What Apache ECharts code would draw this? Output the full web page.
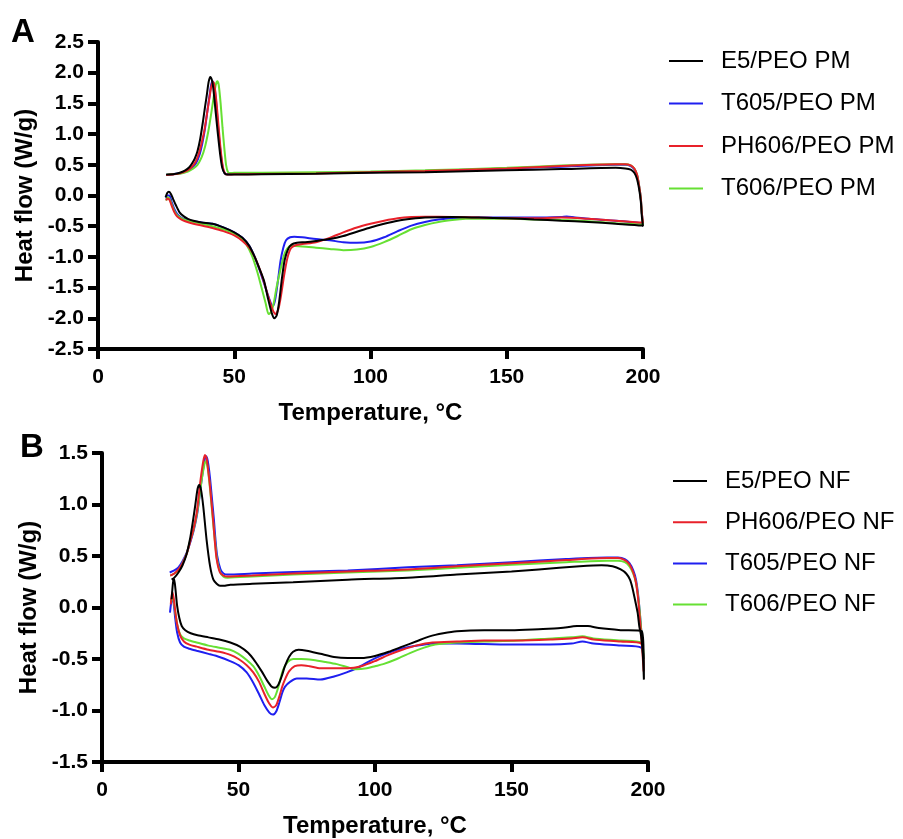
<!DOCTYPE html>
<html>
<head>
<meta charset="utf-8">
<script src="https://cdn.jsdelivr.net/npm/echarts@6/dist/echarts.min.js"></script>
<style>html,body{margin:0;padding:0;background:#fff}#c{width:903px;height:839px}</style>
</head>
<body>
<div id="c"></div>
<script>
// ---------- Tick labels / axis ranges ----------
const xTicks = [0, 50, 100, 150, 200];
const yTicksA = [-2.5, -2.0, -1.5, -1.0, -0.5, 0.0, 0.5, 1.0, 1.5, 2.0, 2.5];
const yTicksB = [-1.5, -1.0, -0.5, 0.0, 0.5, 1.0, 1.5];

// ---------- Legend names ----------
const namesA = ['E5/PEO PM', 'T605/PEO PM', 'PH606/PEO PM', 'T606/PEO PM'];
const namesB = ['E5/PEO NF', 'PH606/PEO NF', 'T605/PEO NF', 'T606/PEO NF'];

// ---------- Panel A : physical mixtures  [temperature °C, heat flow W/g] ----------
// heating scans (25 -> 200 °C)
const A_E5_heat = [[24.8,-0.03],[25.4,0.04],[26,0.06],[26.7,0.03],[27.5,-0.05],[28.5,-0.15],[30,-0.28],[31.5,-0.34],[33,-0.38],[35,-0.41],[38,-0.44],[42,-0.46],[46,-0.52],[50,-0.6],[53,-0.69],[55.5,-0.82],[57.5,-1.0],[59.5,-1.22],[61,-1.4],[62.5,-1.7],[63.8,-1.92],[64.7,-2.0],[65.6,-1.95],[66.5,-1.72],[67.5,-1.35],[68.5,-1.05],[69.8,-0.87],[71,-0.8],[73,-0.77],[76,-0.76],[80,-0.74],[85,-0.71],[90,-0.66],[95,-0.59],[100,-0.52],[105,-0.46],[110,-0.41],[115,-0.38],[120,-0.36],[130,-0.35],[140,-0.36],[150,-0.37],[160,-0.39],[170,-0.41],[180,-0.43],[190,-0.46],[199.6,-0.49]];
const A_T605_heat = [[25,-0.05],[25.5,0.0],[26.2,0.0],[27,-0.1],[28,-0.22],[29,-0.3],[30.5,-0.36],[32,-0.39],[35,-0.42],[38,-0.44],[42,-0.46],[46,-0.52],[50,-0.6],[53,-0.69],[55.5,-0.82],[57.5,-1.0],[59.5,-1.24],[61,-1.44],[62.5,-1.64],[63.5,-1.76],[64.2,-1.8],[65,-1.7],[66,-1.4],[67,-1.06],[68,-0.85],[69,-0.73],[70.5,-0.68],[72,-0.67],[75,-0.68],[80,-0.71],[85,-0.73],[90,-0.76],[95,-0.77],[100,-0.75],[105,-0.68],[110,-0.58],[115,-0.49],[120,-0.43],[125,-0.39],[130,-0.37],[140,-0.36],[150,-0.36],[160,-0.36],[170,-0.35],[172,-0.34],[175,-0.36],[180,-0.38],[190,-0.41],[199.6,-0.45]];
const A_PH606_heat = [[25,-0.08],[25.5,-0.05],[26.2,-0.07],[27,-0.16],[28,-0.27],[29,-0.34],[30.5,-0.39],[32,-0.42],[35,-0.46],[38,-0.49],[42,-0.53],[46,-0.58],[50,-0.65],[53,-0.74],[55.5,-0.85],[57.5,-1.0],[59.5,-1.22],[61,-1.42],[62.5,-1.65],[64,-1.85],[65.2,-1.93],[66.2,-1.85],[67.2,-1.62],[68.3,-1.3],[69.5,-1.02],[70.8,-0.86],[72.5,-0.81],[75,-0.79],[80,-0.76],[85,-0.69],[90,-0.6],[95,-0.52],[100,-0.46],[105,-0.41],[110,-0.37],[115,-0.35],[120,-0.345],[130,-0.35],[140,-0.36],[150,-0.37],[160,-0.37],[170,-0.36],[180,-0.38],[190,-0.41],[199.6,-0.44]];
const A_T606_heat = [[25,-0.08],[25.5,-0.03],[26.2,-0.05],[27,-0.14],[28,-0.25],[29,-0.32],[30.5,-0.37],[32,-0.4],[35,-0.43],[38,-0.46],[42,-0.5],[46,-0.55],[50,-0.62],[52.5,-0.7],[54.5,-0.8],[56.5,-0.98],[58.5,-1.25],[60,-1.5],[61.5,-1.75],[62.6,-1.93],[63.5,-1.9],[64.5,-1.75],[65.5,-1.5],[67,-1.2],[68.3,-0.97],[69.5,-0.86],[71,-0.82],[75,-0.83],[80,-0.85],[85,-0.87],[90,-0.89],[95,-0.88],[100,-0.84],[105,-0.76],[110,-0.66],[115,-0.55],[120,-0.48],[125,-0.43],[130,-0.4],[135,-0.38],[140,-0.375],[150,-0.38],[160,-0.39],[170,-0.4],[180,-0.42],[190,-0.45],[199.6,-0.47]];
// cooling scans (200 -> 25 °C)
const A_E5_cool = [[200,-0.5],[199.6,-0.35],[199.2,-0.1],[198.6,0.1],[197.8,0.27],[196.8,0.37],[195.5,0.42],[193.5,0.44],[190,0.45],[170,0.43],[150,0.41],[120,0.38],[100,0.37],[80,0.355],[60,0.345],[50,0.34],[47.5,0.34],[46.5,0.36],[45.6,0.45],[44.8,0.68],[44,1.0],[43.2,1.35],[42.3,1.75],[41.8,1.88],[41.2,1.93],[40.6,1.85],[40,1.66],[39.3,1.45],[38.5,1.2],[37.5,0.92],[36.5,0.72],[35.5,0.6],[34.5,0.52],[33.5,0.46],[32,0.41],[30,0.37],[28,0.35],[25,0.34]];
const A_T605_cool = [[200,-0.46],[199.6,-0.3],[199.2,-0.05],[198.6,0.15],[197.8,0.33],[196.8,0.43],[195.5,0.48],[193.5,0.5],[190,0.5],[170,0.47],[150,0.44],[120,0.4],[100,0.38],[80,0.365],[60,0.355],[50,0.35],[47.5,0.345],[46.5,0.36],[45.8,0.45],[45,0.7],[44.2,1.05],[43.5,1.45],[42.8,1.75],[42.1,1.86],[41.6,1.82],[41,1.65],[40.2,1.4],[39.3,1.1],[38.3,0.85],[37.3,0.67],[36,0.53],[34.5,0.45],[33,0.4],[31,0.37],[28,0.35],[25,0.34]];
const A_PH606_cool = [[200,-0.44],[199.6,-0.3],[199.2,-0.05],[198.6,0.15],[197.8,0.34],[196.8,0.44],[195.5,0.49],[193.5,0.51],[190,0.51],[170,0.48],[150,0.44],[120,0.4],[100,0.38],[80,0.36],[60,0.35],[50,0.345],[47.5,0.34],[46.6,0.36],[45.8,0.47],[45,0.75],[44.2,1.15],[43.4,1.55],[42.7,1.8],[42.2,1.85],[41.6,1.78],[41,1.62],[40,1.33],[39,1.05],[38,0.85],[37,0.68],[35.8,0.55],[34.3,0.46],[32.5,0.4],[30,0.36],[28,0.345],[25,0.335]];
const A_T606_cool = [[200,-0.48],[199.6,-0.3],[199.2,-0.05],[198.6,0.15],[197.8,0.34],[196.8,0.44],[195.5,0.49],[193.5,0.51],[190,0.51],[170,0.49],[150,0.45],[120,0.41],[100,0.39],[80,0.38],[60,0.37],[50,0.37],[48.5,0.365],[47.7,0.38],[47,0.5],[46.4,0.75],[45.7,1.1],[45,1.5],[44.3,1.8],[43.8,1.86],[43.2,1.8],[42.5,1.62],[41.6,1.35],[40.5,1.05],[39.3,0.8],[38,0.62],[36.5,0.5],[35,0.44],[33,0.39],[30.5,0.36],[28,0.35],[25,0.34]];

// ---------- Panel B : nanofibres  [temperature °C, heat flow W/g] ----------
const B_E5_heat = [[25.5,0.08],[26,0.24],[26.4,0.28],[26.9,0.18],[27.5,0.02],[28.3,-0.1],[29.2,-0.18],[30.5,-0.22],[32.5,-0.25],[35,-0.27],[39,-0.29],[43,-0.31],[47,-0.34],[50.5,-0.38],[53.5,-0.44],[56,-0.52],[58.5,-0.62],[60.5,-0.71],[62.2,-0.77],[63.4,-0.78],[64.6,-0.75],[65.8,-0.67],[67,-0.57],[68.5,-0.48],[70,-0.43],[72,-0.41],[75,-0.42],[80,-0.45],[85,-0.48],[90,-0.49],[95,-0.49],[100,-0.47],[105,-0.43],[110,-0.38],[115,-0.33],[120,-0.28],[125,-0.25],[130,-0.23],[140,-0.22],[150,-0.22],[160,-0.21],[168,-0.2],[174,-0.18],[178,-0.18],[182,-0.2],[190,-0.22],[197.7,-0.23]];
const B_PH606_heat = [[25.2,0.03],[25.7,0.15],[26.2,0.1],[26.8,-0.03],[27.5,-0.16],[28.6,-0.27],[30,-0.33],[32,-0.36],[34.7,-0.38],[39,-0.41],[43,-0.43],[47,-0.46],[50,-0.5],[53,-0.56],[55.4,-0.63],[57.5,-0.72],[59.5,-0.84],[61.2,-0.93],[62.6,-0.97],[63.8,-0.95],[65,-0.86],[66,-0.77],[67,-0.7],[68.5,-0.62],[70.6,-0.57],[73,-0.56],[76,-0.57],[80,-0.59],[85,-0.59],[90,-0.59],[95,-0.57],[100,-0.52],[105,-0.46],[110,-0.41],[115,-0.37],[121,-0.34],[130,-0.33],[140,-0.32],[152,-0.32],[165,-0.31],[172,-0.3],[176,-0.29],[180,-0.31],[190,-0.33],[197.5,-0.35]];
const B_T605_heat = [[24.9,-0.05],[25.3,0.04],[25.7,0.1],[26.2,0.05],[26.8,-0.1],[27.5,-0.24],[28.6,-0.34],[30,-0.38],[32,-0.4],[34.7,-0.42],[39,-0.45],[43,-0.48],[46.9,-0.52],[50,-0.56],[53,-0.63],[55.4,-0.73],[57.5,-0.84],[59.5,-0.95],[61.3,-1.02],[62.6,-1.04],[63.8,-1.01],[65,-0.92],[66,-0.83],[67,-0.77],[69,-0.72],[71.4,-0.69],[75,-0.69],[80,-0.7],[85,-0.67],[89.6,-0.63],[94,-0.58],[98,-0.52],[102,-0.47],[107,-0.42],[112.8,-0.38],[118,-0.36],[121.2,-0.35],[130,-0.35],[140,-0.355],[152,-0.36],[164,-0.36],[172,-0.35],[176,-0.33],[180,-0.35],[190,-0.37],[197.5,-0.39]];
const B_T606_heat = [[25.3,0.05],[25.8,0.12],[26.3,0.06],[26.9,-0.06],[27.6,-0.17],[28.6,-0.26],[30,-0.3],[32,-0.32],[34.7,-0.34],[39,-0.37],[43,-0.39],[46.9,-0.41],[50,-0.45],[53,-0.51],[55.4,-0.57],[57.5,-0.66],[59.5,-0.77],[61.2,-0.86],[62.2,-0.89],[63.3,-0.87],[64.5,-0.78],[65.5,-0.68],[66.4,-0.6],[68,-0.53],[70,-0.5],[73,-0.5],[77.4,-0.51],[82,-0.53],[86,-0.55],[90,-0.58],[93,-0.6],[97,-0.59],[100,-0.57],[103,-0.55],[108,-0.5],[113,-0.44],[118,-0.39],[122,-0.36],[130,-0.34],[140,-0.33],[152,-0.32],[165,-0.3],[172,-0.29],[176,-0.28],[180,-0.3],[190,-0.32],[197.5,-0.34]];
const B_E5_cool = [[198.4,-0.45],[198.5,-0.7],[198.1,-0.45],[197.5,-0.28],[196.8,-0.18],[196.2,-0.05],[195.2,0.08],[194.3,0.19],[193.4,0.27],[192,0.33],[190,0.37],[187,0.4],[183,0.41],[175,0.4],[160,0.37],[150,0.35],[130,0.32],[112,0.29],[90,0.27],[70,0.245],[55,0.23],[47,0.22],[44.5,0.21],[43.2,0.21],[42,0.23],[40.8,0.27],[39.6,0.4],[38.3,0.66],[37.1,0.98],[36.3,1.14],[35.6,1.19],[35,1.15],[34.2,1.0],[33.2,0.82],[32.2,0.66],[31,0.52],[29.5,0.41],[28,0.34],[26.5,0.29],[25.5,0.27]];
const B_PH606_cool = [[198.4,-0.62],[198,-0.45],[197.6,-0.3],[197,-0.1],[196.4,0.08],[195.6,0.24],[194.6,0.34],[193.2,0.42],[191.5,0.46],[189,0.48],[185,0.48],[170,0.46],[150,0.43],[130,0.4],[112,0.37],[90,0.35],[70,0.33],[55,0.31],[46,0.3],[44.5,0.31],[43.2,0.34],[42,0.47],[41.3,0.65],[40.8,0.82],[40,1.05],[39.4,1.22],[38.9,1.33],[38.3,1.45],[37.7,1.48],[37.1,1.42],[36.1,1.24],[35.4,1.08],[34.7,0.92],[33.5,0.76],[32.2,0.63],[31,0.52],[29.5,0.43],[28,0.37],[26.5,0.33],[25,0.31]];
const B_T605_cool = [[198.4,-0.5],[198,-0.4],[197.6,-0.25],[197,-0.05],[196.4,0.12],[195.6,0.27],[194.6,0.36],[193.2,0.43],[191.5,0.47],[189,0.485],[185,0.485],[170,0.47],[150,0.44],[130,0.41],[112,0.39],[90,0.36],[70,0.345],[55,0.33],[46,0.32],[44.5,0.33],[43.4,0.37],[42.2,0.5],[41.5,0.68],[41,0.85],[40.2,1.08],[39.6,1.25],[39,1.38],[38.5,1.45],[38,1.47],[37.4,1.4],[36.4,1.22],[35.6,1.05],[34.8,0.9],[33.6,0.75],[32.4,0.64],[31,0.53],[29.5,0.45],[28,0.39],[26.5,0.36],[24.8,0.34]];
const B_T606_cool = [[198.4,-0.5],[198,-0.4],[197.6,-0.25],[197,-0.05],[196.4,0.1],[195.6,0.24],[194.6,0.33],[193.2,0.4],[191.5,0.44],[189,0.455],[185,0.455],[170,0.44],[150,0.415],[130,0.385],[112,0.36],[90,0.34],[70,0.32],[55,0.3],[46,0.29],[44.5,0.3],[43.3,0.34],[42.1,0.47],[41.4,0.64],[40.8,0.8],[40.1,1.0],[39.5,1.17],[38.9,1.32],[38.4,1.4],[37.9,1.42],[37.3,1.36],[36.3,1.2],[35.5,1.04],[34.7,0.9],[33.5,0.75],[32.2,0.64],[31,0.52],[29.5,0.43],[28,0.36],[26.5,0.33],[25,0.31]];

// ---------- colours ----------
const COL = { black: '#000000', blue: '#1f1ff0', red: '#e8212a', green: '#66e033' };

const FONT = 'Liberation Sans, Arial, Helvetica, sans-serif';

function loop(heat, cool) { return heat.concat(cool); }

function mkSeries(name, data, color, idx, z) {
  return {
    type: 'line', name: name, data: data,
    xAxisIndex: idx, yAxisIndex: idx,
    symbol: 'none', showSymbol: false, smooth: 0.25, z: z,
    lineStyle: { color: color, width: 2 },
    itemStyle: { color: color },
    emphasis: { disabled: true }, silent: true
  };
}

function xAx(idx) {
  return {
    type: 'value', gridIndex: idx, min: xTicks[0], max: xTicks[xTicks.length - 1], interval: 50,
    name: 'Temperature, °C', nameLocation: 'middle', nameGap: 52,
    nameTextStyle: { fontSize: 24, fontWeight: 'bold', color: '#000', fontFamily: FONT },
    axisLine: { show: true, onZero: false, lineStyle: { color: '#000', width: 4 } },
    axisTick: { show: true, length: 10, lineStyle: { color: '#000', width: 4 } },
    axisLabel: { fontSize: 21, fontWeight: 'bold', color: '#000', fontFamily: FONT, margin: 18 },
    splitLine: { show: false }
  };
}
function yAx(idx, ticks) {
  return {
    type: 'value', gridIndex: idx, min: ticks[0], max: ticks[ticks.length - 1], interval: 0.5,
    name: 'Heat flow (W/g)', nameLocation: 'middle', nameGap: 61, nameRotate: 90,
    nameTextStyle: { fontSize: 24, fontWeight: 'bold', color: '#000', fontFamily: FONT },
    axisLine: { show: true, onZero: false, lineStyle: { color: '#000', width: 4 } },
    axisTick: { show: true, length: 10, lineStyle: { color: '#000', width: 4 } },
    axisLabel: { fontSize: 21, fontWeight: 'bold', color: '#000', fontFamily: FONT, margin: 14,
      formatter: v => v.toFixed(1) },
    splitLine: { show: false }
  };
}
function legend(names, left, top, gap) {
  return {
    data: names.map(n => ({ name: n, icon: 'rect' })),
    orient: 'vertical', left: left, top: top, padding: 0,
    itemWidth: 34, itemHeight: 2, itemGap: gap, selectedMode: false,
    textStyle: { fontSize: 24, color: '#000', fontFamily: FONT, padding: [0, 0, 0, 13], lineHeight: 24 }
  };
}

const chart = echarts.init(document.getElementById('c'), null, { renderer: 'canvas' });
chart.setOption({
  animation: false,
  backgroundColor: '#fff',
  title: [
    { text: 'A', left: 11, top: 16, padding: 0, textStyle: { fontSize: 33, fontWeight: 'bold', color: '#000', fontFamily: FONT } },
    { text: 'B', left: 20, top: 431, padding: 0, textStyle: { fontSize: 33, fontWeight: 'bold', color: '#000', fontFamily: FONT } }
  ],
  grid: [
    { left: 98, top: 42, width: 545, height: 307 },
    { left: 102, top: 453, width: 546, height: 310 }
  ],
  xAxis: [xAx(0), xAx(1)],
  yAxis: [yAx(0, yTicksA), yAx(1, yTicksB)],
  legend: [legend(namesA, 669, 49, 18.5), legend(namesB, 673, 469, 17.2)],
  series: [
    mkSeries(namesA[0], loop(A_E5_heat, A_E5_cool), COL.black, 0, 5),
    mkSeries(namesA[1], loop(A_T605_heat, A_T605_cool), COL.blue, 0, 2),
    mkSeries(namesA[2], loop(A_PH606_heat, A_PH606_cool), COL.red, 0, 3),
    mkSeries(namesA[3], loop(A_T606_heat, A_T606_cool), COL.green, 0, 2),
    mkSeries(namesB[0], loop(B_E5_heat, B_E5_cool), COL.black, 1, 5),
    mkSeries(namesB[1], loop(B_PH606_heat, B_PH606_cool), COL.red, 1, 3),
    mkSeries(namesB[2], loop(B_T605_heat, B_T605_cool), COL.blue, 1, 2),
    mkSeries(namesB[3], loop(B_T606_heat, B_T606_cool), COL.green, 1, 2)
  ]
});
</script>
</body>
</html>
